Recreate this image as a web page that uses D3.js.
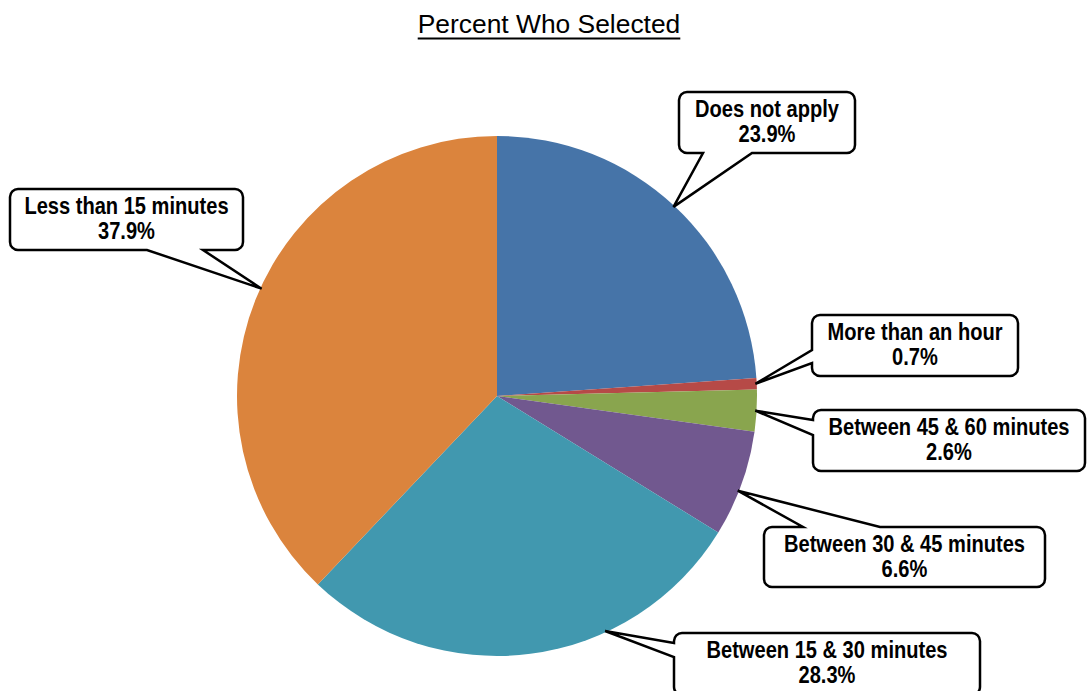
<!DOCTYPE html>
<html><head><meta charset="utf-8">
<script src="https://cdn.jsdelivr.net/npm/d3@7/dist/d3.min.js"></script>
<style>
html,body{margin:0;padding:0;background:#fff;}
svg{display:block;}
text{font-family:"Liberation Sans Narrow","Arial Narrow","Liberation Sans",Arial,sans-serif;}
</style></head>
<body>
<svg id="chart" width="1087" height="691"></svg>
<script>
const title = "Percent Who Selected";
const categories = ["Does not apply","More than an hour","Between 45 & 60 minutes","Between 30 & 45 minutes","Between 15 & 30 minutes","Less than 15 minutes"];
const values = [23.9, 0.7, 2.6, 6.6, 28.3, 37.9];
const colors = ["#4674A8","#B64A47","#89A54E","#71588F","#4198AF","#DB843D"];

// callout layout (box rects, pointer base on one edge, tip position within slice)
const layout = [
  {x:679,y:92,w:176,h:61,side:"bottom",b1:703,b2:752,frac:0.5},
  {x:812,y:315,w:206,h:61,side:"left",b1:350,b2:363,frac:0.5},
  {x:813,y:410,w:272,h:61,side:"left",b1:420,b2:435,frac:0.5},
  {x:764,y:527,w:281,h:60,side:"top",b1:803,b2:880,frac:0.57},
  {x:674,y:633,w:306,h:62,side:"left",b1:643,b2:657,frac:0.33},
  {x:10,y:189,w:233,h:61,side:"bottom",b1:147,b2:203,frac:0.52}
];

const svg = d3.select("#chart");
const cx = 497, cy = 396, R = 260;

// detect narrow font availability
const probe = svg.append("text").attr("font-size",20).attr("font-weight","bold").text("Does not apply");
const pw = probe.node().getComputedTextLength();
probe.remove();
const isNarrow = pw < 130;
const sx = isNarrow ? 1 : 0.82;

// title
const t = svg.append("text").attr("x",549).attr("y",33).attr("text-anchor","middle")
  .style("font-family","'Liberation Sans',Arial,sans-serif")
  .attr("font-size",26.4).attr("fill","#000").text(title);
const tw = t.node().getComputedTextLength();
svg.append("line").attr("x1",549-tw/2).attr("x2",549+tw/2).attr("y1",38.5).attr("y2",38.5)
  .attr("stroke","#000").attr("stroke-width",2);

const pie = d3.pie().sort(null).value(d=>d)(values);
const arc = d3.arc().innerRadius(0).outerRadius(R);
const g = svg.append("g").attr("transform",`translate(${cx},${cy})`);
g.selectAll("path.slice").data(pie).join("path").attr("class","slice")
  .attr("d",arc).attr("fill",(d,i)=>colors[i]);

function calloutPath(b, tip, r){
  const {x,y,w,h,side,b1,b2} = b;
  const [tx,ty] = tip;
  let p = `M${x+r},${y}`;
  if(side==="top") p += `L${b1},${y}L${tx},${ty}L${b2},${y}`;
  p += `L${x+w-r},${y}A${r},${r} 0 0 1 ${x+w},${y+r}`;
  p += `L${x+w},${y+h-r}A${r},${r} 0 0 1 ${x+w-r},${y+h}`;
  if(side==="bottom") p += `L${b2},${y+h}L${tx},${ty}L${b1},${y+h}`;
  p += `L${x+r},${y+h}A${r},${r} 0 0 1 ${x},${y+h-r}`;
  if(side==="left") p += `L${x},${b2}L${tx},${ty}L${x},${b1}`;
  p += `L${x},${y+r}A${r},${r} 0 0 1 ${x+r},${y}Z`;
  return p;
}

pie.forEach((d,i)=>{
  const L = layout[i];
  const a = d.startAngle + (d.endAngle-d.startAngle)*L.frac;
  const tip = [cx + R*0.995*Math.sin(a), cy - R*0.995*Math.cos(a)];
  svg.append("path").attr("d",calloutPath(L,tip,8))
    .attr("fill","#fff").attr("stroke","#000").attr("stroke-width",2.5).attr("stroke-linejoin","miter");
  const tx = L.x + L.w/2;
  const tg = svg.append("g").attr("transform",`translate(${tx},${L.y}) scale(${sx},1)`);
  const txt = tg.append("text").attr("text-anchor","middle").attr("font-weight","bold")
    .attr("font-size",24.5).attr("fill","#000");
  txt.append("tspan").attr("x",0).attr("y",25).text(categories[i]);
  txt.append("tspan").attr("x",0).attr("y",50).text(d3.format(".1f")(values[i])+"%");
});
</script>
</body></html>
